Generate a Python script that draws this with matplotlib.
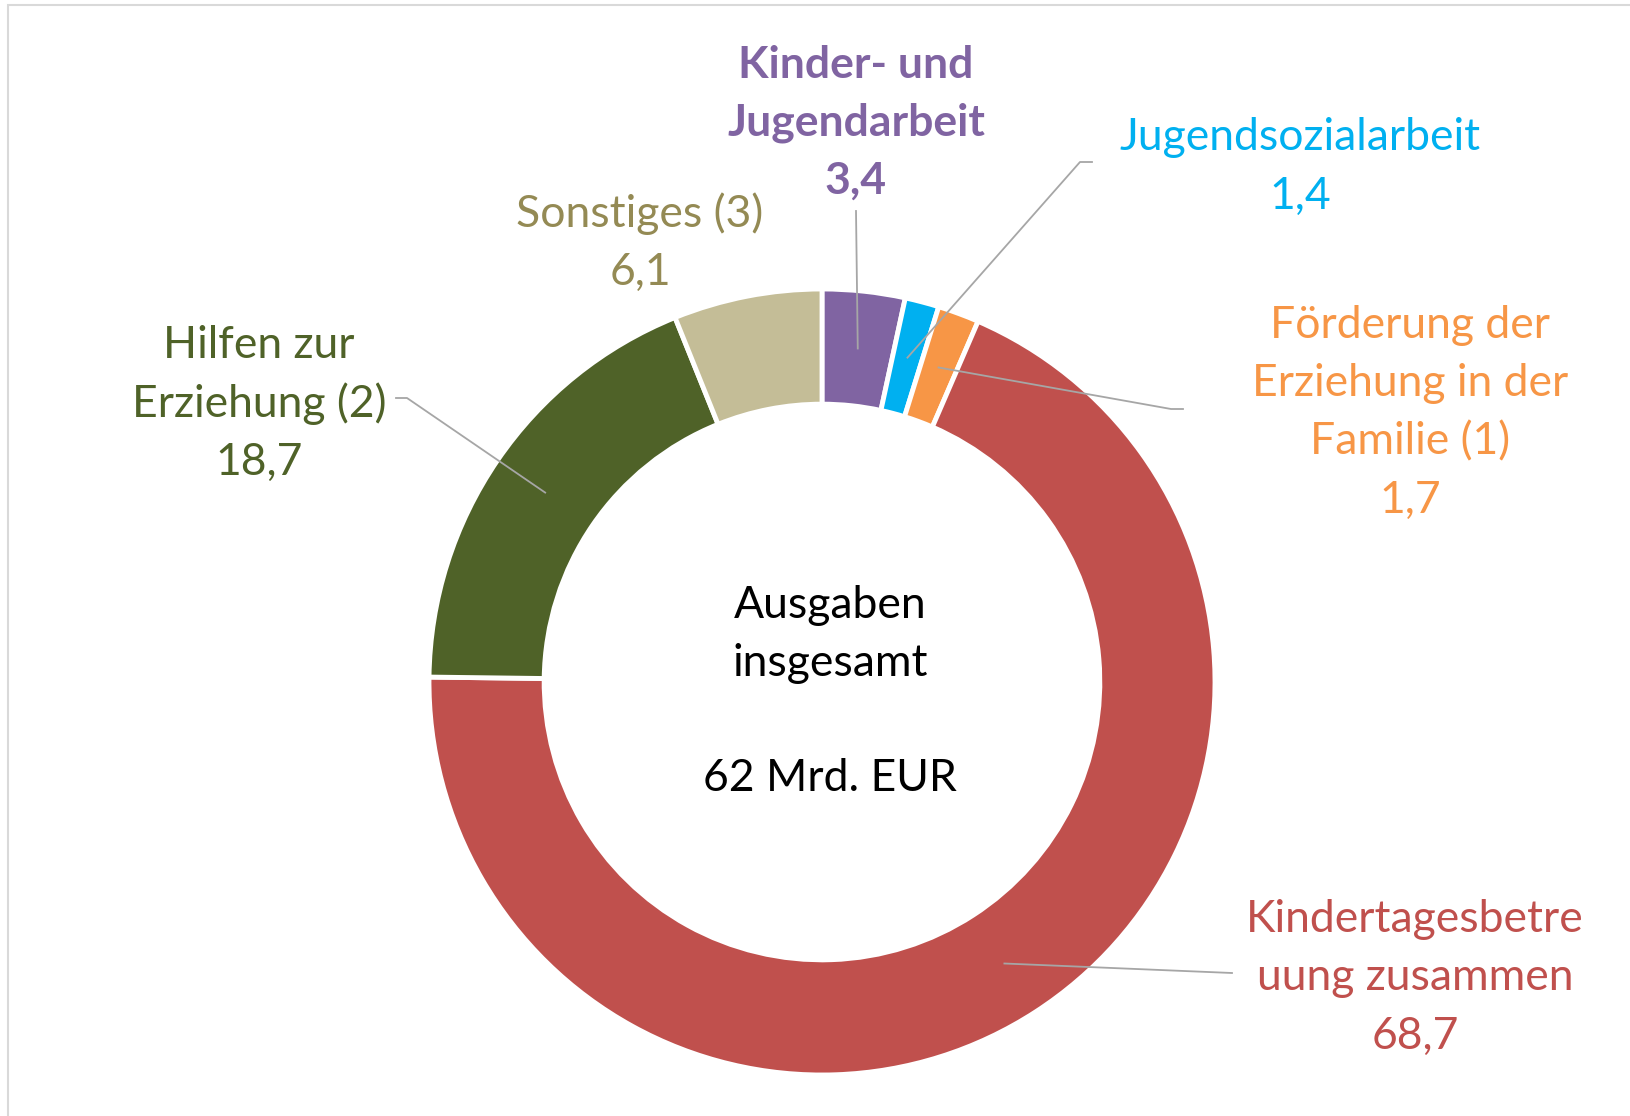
import numpy as np
import matplotlib.pyplot as plt
from matplotlib.patches import Rectangle

plt.rcParams['font.family'] = ['Lato', 'DejaVu Sans']

# Ausgaben der Kinder- und Jugendhilfe, Anteile in %
labels = ['Kinder- und\nJugendarbeit', 'Jugendsozialarbeit',
          'Förderung der\nErziehung in der\nFamilie (1)',
          'Kindertagesbetre\nuung zusammen', 'Hilfen zur\nErziehung (2)',
          'Sonstiges (3)']
values = [3.4, 1.4, 1.7, 68.7, 18.7, 6.1]
value_labels = ['3,4', '1,4', '1,7', '68,7', '18,7', '6,1']
wedge_colors = ['#8064A2', '#00B0F0', '#F79646', '#C0504D', '#4F6228', '#C4BD97']
text_colors = ['#8064A2', '#00B0F0', '#F79646', '#C0504D', '#4F6228', '#948A54']
center_text = ['Ausgaben', 'insgesamt', '', '62 Mrd. EUR']

W, H = 1631, 1116
fig = plt.figure(figsize=(W / 100, H / 100), dpi=100)
ax = fig.add_axes([0, 0, 1, 1])
ax.set_xlim(0, W)
ax.set_ylim(0, H)
ax.axis('off')

def Y(y):
    return H - y

cx, cy, R = 822, 682, 393
ring = 0.293

wedges, _ = ax.pie(values, colors=wedge_colors, startangle=90, counterclock=False,
                   radius=R, center=(cx, Y(cy)),
                   wedgeprops=dict(width=R * ring, edgecolor='white', linewidth=3.5))
ax.set_aspect('equal')
ax.set_xlim(0, W)
ax.set_ylim(0, H)

# label blocks: (x, first line y, bold)
label_pos = [(856, 65, True), (1300, 138, False), (1410, 326, False),
             (1415, 920, False), (259, 346, False), (640, 214, False)]
pitch = 58
fs = 32
for lab, val, col, (x, y0, bold) in zip(labels, value_labels, text_colors, label_pos):
    lines = lab.split('\n') + [val]
    for i, ln in enumerate(lines):
        ax.text(x, Y(y0 + i * pitch), ln, ha='center', va='center', fontsize=fs,
                color=col, fontweight='bold' if bold else 'normal')

for i, ln in enumerate(center_text):
    ax.text(830, Y(606 + i * 57.5), ln, ha='center', va='center', fontsize=fs, color='black')

# leader lines, anchored at the middle of each ring segment
cum = np.cumsum([0] + values[:-1])
total = sum(values)
r_mid = R * (1 - ring / 2)
elbows = {0: [(856, 211)],
          1: [(1080, 162), (1092, 162)],
          2: [(1171, 409), (1183, 409)],
          3: [(1232, 973)],
          4: [(407, 398), (396, 398)]}
for k, pts in elbows.items():
    ang = np.deg2rad(90 - (cum[k] + values[k] / 2) / total * 360)
    ax_ = cx + r_mid * np.cos(ang)
    ay_ = cy - r_mid * np.sin(ang)
    xs = [ax_] + [p[0] for p in pts]
    ys = [Y(ay_)] + [Y(p[1]) for p in pts]
    ax.plot(xs, ys, color='#A6A6A6', lw=1.3)

ax.add_patch(Rectangle((8, -10), W + 20, Y(5) + 10, fill=False,
                       edgecolor='#D9D9D9', lw=1.5))

fig.savefig('out.png', dpi=100)
